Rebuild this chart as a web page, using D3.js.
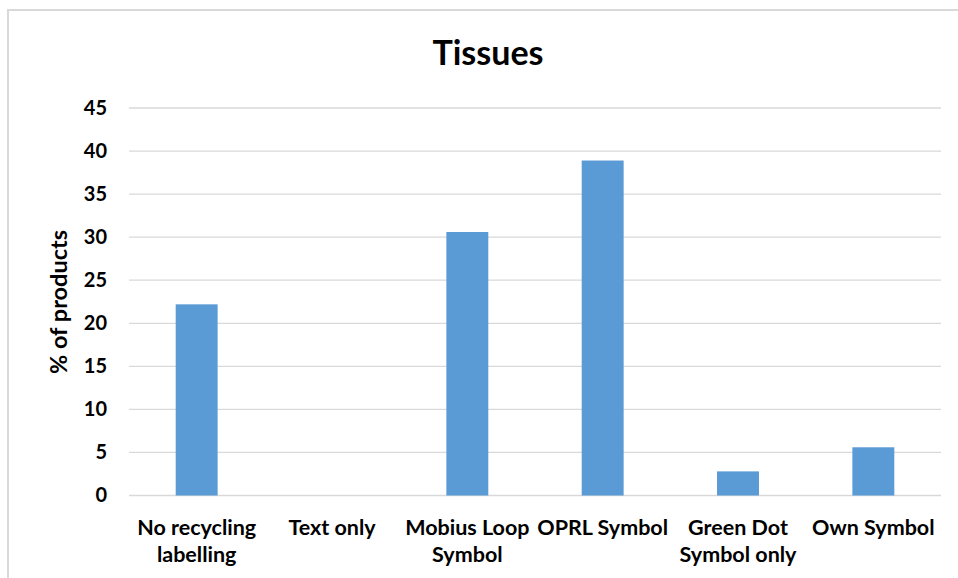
<!DOCTYPE html>
<meta charset="utf-8">
<script src="https://cdn.jsdelivr.net/npm/d3@7/dist/d3.min.js"></script>
<style>
body { margin: 0; background: #fff; }
text { font-family: Lato, "Open Sans", sans-serif; font-weight: bold; fill: #000; }
</style>
<body>
<script>

// data
var categories = ["No recycling labelling", "Text only", "Mobius Loop Symbol",
                  "OPRL Symbol", "Green Dot Symbol only", "Own Symbol"];
var labelLines = [["No recycling", "labelling"], ["Text only"], ["Mobius Loop", "Symbol"],
                  ["OPRL Symbol"], ["Green Dot", "Symbol only"], ["Own Symbol"]];
var values = [22.2, 0, 30.6, 38.9, 2.8, 5.6];
var yTicks = [0, 5, 10, 15, 20, 25, 30, 35, 40, 45];

var width = 958,
    height = 578;

var svg = d3.select("body").append("svg")
    .attr("width", width)
    .attr("height", height);

// chart frame
svg.append("rect")
    .attr("x", 8).attr("y", 10)
    .attr("width", 1000).attr("height", 1000)
    .style("fill", "#fff")
    .style("stroke", "#d9d9d9")
    .style("stroke-width", 2);

var x = d3.scaleBand()
    .domain(categories)
    .range([129, 941])
    .paddingInner(0.69)
    .paddingOuter(0.345);

var y = d3.scaleLinear()
    .domain([0, 45])
    .range([495.5, 108]);

// gridlines
svg.append("g")
    .selectAll("line")
    .data(yTicks)
    .enter().append("line")
    .attr("x1", 129).attr("x2", 941)
    .attr("y1", function(d) { return y(d); })
    .attr("y2", function(d) { return y(d); })
    .style("stroke", "#d9d9d9")
    .style("stroke-width", 1.3);

// bars
svg.append("g")
    .selectAll("rect")
    .data(values)
    .enter().append("rect")
    .attr("x", function(d, i) { return x(categories[i]); })
    .attr("width", x.bandwidth())
    .attr("y", function(d) { return y(d); })
    .attr("height", function(d) { return y(0) - y(d); })
    .style("fill", "#5b9bd5");

// y axis
var yAxis = svg.append("g")
    .attr("transform", "translate(129,0)")
    .call(d3.axisLeft(y).tickValues(yTicks).tickSize(0).tickPadding(22));
yAxis.select(".domain").remove();
yAxis.selectAll("text")
    .style("font-size", "20px")
    .style("font-family", "Lato, sans-serif")
    .attr("fill", "#000");

// x axis
var xAxis = svg.append("g")
    .attr("transform", "translate(0," + y(0) + ")")
    .call(d3.axisBottom(x).tickSize(0).tickFormat(""));
xAxis.select(".domain").remove();
xAxis.selectAll(".tick").each(function(d, i) {
  var t = d3.select(this).append("text")
      .attr("text-anchor", "middle")
      .style("font-size", "21.5px");
  labelLines[i].forEach(function(line, j) {
    t.append("tspan")
        .attr("x", 0)
        .attr("y", 39 + j * 27)
        .text(line);
  });
});

// title
svg.append("text")
    .attr("x", 488)
    .attr("y", 65)
    .attr("text-anchor", "middle")
    .style("font-size", "34px")
    .text("Tissues");

// y label
svg.append("text")
    .attr("transform", "translate(67,302) rotate(-90)")
    .attr("text-anchor", "middle")
    .style("font-size", "23.5px")
    .text("% of products");

</script>
</body>
